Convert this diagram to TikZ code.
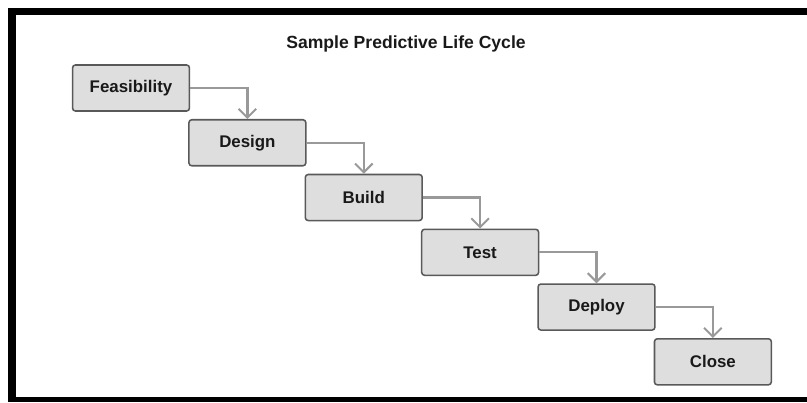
\documentclass[tikz,border=0pt]{standalone}
\usepackage{fontspec}
\setmainfont{Liberation Sans}
\usepackage{tikz}
\usetikzlibrary{arrows.meta, positioning}

\begin{document}
\begin{tikzpicture}[
    x=0.025cm, y=-0.025cm,
    every node/.style={font=\fontsize{12}{14}\selectfont\bfseries, text=black!90},
    phasebox/.style={rectangle, draw=black!65, line width=1.1pt, rounded corners=2pt, fill=black!13, minimum width=2.92cm, minimum height=1.15cm},
    arr/.style={-{Straight Barb[length=2.2mm, width=4.4mm, line width=1.4pt]}, draw=black!40, line width=1.7pt}
]
\useasboundingbox (0,0) rectangle (807,402);

% Frame
\fill[black] (8,8) rectangle (16,402);
\fill[black] (8,8) rectangle (807,15);
\fill[black] (8,397) rectangle (807,402);

% Title
\node[font=\fontsize{12.5}{15}\selectfont\bfseries] (title) at (406,44) {Sample Predictive Life Cycle};

% Phases
\node[phasebox] (feas) at (131,88) {Feasibility};
\node[phasebox, below right=0.18cm and -0.05cm of feas] (design) {Design};
\node[phasebox, below right=0.18cm and -0.05cm of design] (build) {Build};
\node[phasebox, below right=0.18cm and -0.05cm of build] (test) {Test};
\node[phasebox, below right=0.18cm and -0.05cm of test] (deploy) {Deploy};
\node[phasebox, below right=0.18cm and -0.05cm of deploy] (close) {Close};

% Arrows
\draw[arr] (feas.east) -| (design.north);
\draw[arr] (design.east) -| (build.north);
\draw[arr] (build.east) -| (test.north);
\draw[arr] (test.east) -| (deploy.north);
\draw[arr] (deploy.east) -| (close.north);
\end{tikzpicture}
\end{document}
